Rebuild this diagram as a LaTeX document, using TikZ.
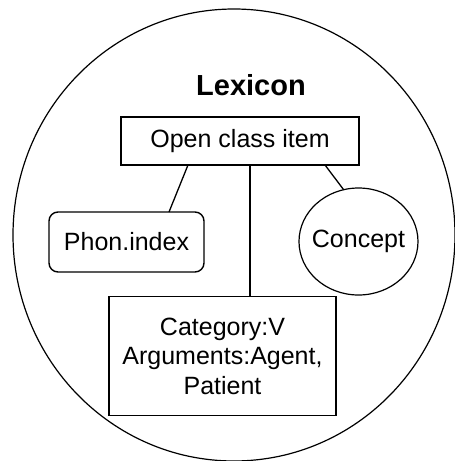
\documentclass[tikz,border=0pt]{standalone}
\usepackage{fontspec}
\setmainfont{Liberation Sans}
\usetikzlibrary{calc,shapes.geometric}
\begin{document}
\begin{tikzpicture}[x=1pt,y=-1pt,
  box/.style={draw,line width=1.4pt,inner sep=0pt,outer sep=0pt,align=center,
    font=\fontsize{25}{29.5}\selectfont},
  link/.style={line width=1.3pt}]
\useasboundingbox (0,0) rectangle (455,461);
\clip (0,0) rectangle (455,461);
\draw[line width=1.2pt] (234,235) ellipse [x radius=221, y radius=226];
\node[font=\bfseries\fontsize{29}{34}\selectfont] (lex) at (251,85) {Lexicon};
\node[box,minimum width=238,minimum height=48] (oci) at (240,141) {Open class item};
\node[box,rounded corners=9pt,minimum width=155,minimum height=60] (phon) at (126.5,242) {Phon.index};
\node[box,ellipse,line width=1.2pt,inner xsep=-7pt,minimum width=119,minimum height=107] (con) at (358.5,241.5) {Concept};
\node[box,minimum width=227,minimum height=119] (cat) at (222.5,356) {Category:V\\Arguments:Agent,\\Patient};
\draw[link] ($(oci.south west)+(67,0)$) -- ($(phon.north west)+(120,0)$);
\coordinate (v) at ($(oci.south)+(10,0)$);
\draw[link] (v) -- (v |- cat.north);
\draw[link] ($(oci.south west)+(204,0)$) -- (con.106);
\end{tikzpicture}
\end{document}
